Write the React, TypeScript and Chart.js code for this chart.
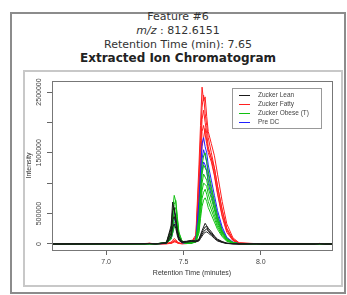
import React, { useEffect, useRef } from "react";
import { Chart, registerables } from "chart.js";

Chart.register(...registerables);

const featureLabel = "Feature #6";
const mzLabel = "m/z";
const mzValue = " : 812.6151";
const rtLabel = "Retention Time (min): 7.65";
const chartTitle = "Extracted Ion Chromatogram";
const xLabel = "Retention Time (minutes)";
const yLabel = "Intensity";

// retention time (minutes)
const retentionTimes = [6.65, 7.25, 7.28, 7.32, 7.39, 7.42, 7.43, 7.44, 7.45, 7.46, 7.47, 7.49, 7.52, 7.55, 7.58, 7.60, 7.61, 7.62, 7.63, 7.64, 7.65, 7.66, 7.68, 7.70, 7.72, 7.75, 7.78, 7.82, 7.86, 7.97, 8.00, 8.35, 8.38, 8.41, 8.46];

// intensities in thousands
const leanA = [0, 6, 10, 3, 25, 300, 690, 560, 400, 250, 120, 40, 45, 60, 50, 80, 150, 220, 280, 340, 300, 260, 200, 130, 80, 40, 15, 5, 2, 4, 0, 0, 6, 0, 0];
const leanB = [0, 5, 8, 2, 20, 250, 550, 600, 420, 200, 90, 35, 40, 55, 45, 70, 130, 190, 240, 280, 290, 230, 180, 120, 70, 35, 12, 4, 2, 3, 0, 0, 5, 0, 0];
const leanC = [0, 4, 6, 2, 15, 180, 400, 450, 350, 180, 80, 30, 35, 45, 40, 60, 110, 160, 200, 230, 250, 210, 160, 100, 60, 30, 10, 3, 1, 2, 0, 0, 4, 0, 0];
const leanD = [0, 3, 5, 1, 12, 120, 280, 330, 260, 140, 60, 25, 30, 40, 35, 50, 90, 130, 170, 190, 200, 180, 140, 90, 50, 25, 8, 3, 1, 2, 0, 0, 3, 0, 0];

const fattyA = [0, 8, 12, 4, 10, 30, 60, 90, 70, 40, 20, 10, 15, 30, 150, 1300, 1950, 2580, 2350, 2420, 2100, 1850, 1650, 1450, 1150, 700, 330, 100, 20, 6, 0, 0, 10, 0, 0];
const fattyB = [0, 5, 10, 3, 8, 20, 40, 60, 50, 30, 15, 8, 12, 25, 120, 1100, 1700, 2250, 2450, 2150, 1950, 1750, 1500, 1250, 950, 560, 260, 80, 15, 4, 0, 0, 8, 0, 0];
const fattyC = [0, 6, 9, 2, 6, 15, 30, 50, 45, 25, 12, 6, 10, 20, 90, 900, 1500, 2050, 2200, 2000, 1820, 1600, 1400, 1150, 850, 480, 220, 60, 12, 3, 0, 0, 6, 0, 0];
const fattyD = [0, 4, 8, 2, 5, 12, 25, 40, 35, 20, 10, 5, 8, 18, 70, 750, 1300, 1850, 1950, 1800, 1650, 1500, 1350, 1120, 820, 450, 190, 55, 10, 3, 0, 0, 5, 0, 0];
const fattyE = [0, 3, 6, 1, 4, 10, 20, 35, 30, 18, 8, 4, 6, 15, 60, 600, 1150, 1600, 1750, 1900, 1700, 1550, 1420, 1250, 950, 560, 250, 70, 12, 2, 0, 0, 4, 0, 0];

const obeseA = [0, 4, 6, 2, 30, 250, 550, 800, 700, 420, 180, 50, 20, 25, 60, 450, 900, 1300, 1450, 1500, 1350, 1200, 950, 700, 450, 220, 90, 25, 5, 2, 0, 0, 3, 0, 0];
const obeseB = [0, 3, 5, 1, 25, 200, 450, 650, 720, 450, 200, 50, 18, 20, 50, 380, 800, 1150, 1300, 1250, 1200, 1050, 850, 620, 400, 200, 80, 22, 5, 2, 0, 0, 3, 0, 0];
const obeseC = [0, 3, 4, 1, 20, 150, 350, 550, 600, 380, 160, 40, 15, 18, 45, 320, 700, 1000, 1150, 1100, 1050, 920, 750, 560, 360, 180, 70, 20, 4, 1, 0, 0, 2, 0, 0];
const obeseD = [0, 2, 4, 1, 18, 120, 300, 450, 480, 300, 120, 35, 12, 15, 40, 280, 600, 880, 1000, 980, 950, 820, 650, 480, 320, 160, 60, 18, 4, 1, 0, 0, 2, 0, 0];
const obeseE = [0, 2, 3, 1, 15, 100, 220, 350, 380, 250, 100, 30, 10, 14, 35, 220, 500, 750, 850, 900, 820, 700, 560, 420, 280, 140, 55, 15, 3, 1, 0, 0, 2, 0, 0];
const obeseF = [0, 2, 3, 1, 12, 80, 180, 280, 300, 200, 80, 25, 8, 12, 30, 180, 420, 620, 720, 760, 700, 600, 480, 360, 240, 120, 45, 12, 3, 1, 0, 0, 1, 0, 0];

const preA = [0, 3, 6, 2, 20, 150, 350, 520, 480, 300, 120, 30, 15, 20, 80, 700, 1200, 1650, 1750, 1600, 1500, 1300, 1050, 800, 550, 280, 110, 30, 6, 2, 0, 0, 4, 0, 0];
const preB = [0, 2, 5, 1, 15, 100, 250, 400, 430, 250, 90, 25, 12, 18, 60, 550, 1000, 1400, 1550, 1450, 1350, 1150, 900, 700, 480, 240, 90, 25, 5, 1, 0, 0, 3, 0, 0];
const preC = [0, 2, 4, 1, 10, 80, 180, 300, 330, 200, 70, 20, 10, 15, 50, 450, 850, 1200, 1350, 1300, 1200, 1000, 800, 600, 400, 200, 80, 20, 4, 1, 0, 0, 2, 0, 0];

const groupLabels = ["Zucker Lean", "Zucker Fatty", "Zucker Obese (T)", "Pre DC"];
const groupColors = ["#1a1a1a", "#ff2020", "#10c010", "#2020ff"];
const groupTraces = [
  [leanA, leanB, leanC, leanD],
  [fattyA, fattyB, fattyC, fattyD, fattyE],
  [obeseA, obeseB, obeseC, obeseD, obeseE, obeseF],
  [preA, preB, preC],
];
// drawing order: first dataset is painted on top
const drawOrder = [0, 2, 3, 1];

const xTickValues = [7.0, 7.5, 8.0];
const xTickLabels = ["7.0", "7.5", "8.0"];
const yTickValues = [0, 500, 1000, 1500, 2000, 2500];
const yTickLabels = ["0", "500000", "", "1500000", "", "2500000"];

const tickFont = { family: '"Liberation Sans", Arial, sans-serif', size: 7 };

const boxPlugin = {
  id: "plotBox",
  afterDatasetsDraw(chart: any) {
    const { ctx, chartArea } = chart;
    ctx.save();
    ctx.strokeStyle = "#777";
    ctx.lineWidth = 1;
    ctx.strokeRect(
      Math.round(chartArea.left) + 0.5,
      Math.round(chartArea.top) + 0.5,
      Math.round(chartArea.right - chartArea.left),
      Math.round(chartArea.bottom - chartArea.top)
    );
    ctx.restore();
  },
};

const legendPlugin = {
  id: "boxLegend",
  afterDraw(chart: any) {
    const { ctx, chartArea } = chart;
    const w = 90;
    const h = 41;
    const x0 = Math.round(chartArea.right - 10 - w);
    const y0 = Math.round(chartArea.top + 7);
    ctx.save();
    ctx.fillStyle = "#ffffff";
    ctx.fillRect(x0, y0, w, h);
    ctx.strokeStyle = "#999";
    ctx.lineWidth = 1;
    ctx.strokeRect(x0 + 0.5, y0 + 0.5, w - 1, h - 1);
    ctx.font = '6.5px "Liberation Sans", Arial, sans-serif';
    ctx.textBaseline = "middle";
    ctx.textAlign = "left";
    groupLabels.forEach((lab, i) => {
      const y = y0 + 7.5 + i * 9;
      ctx.strokeStyle = groupColors[i];
      ctx.beginPath();
      ctx.moveTo(x0 + 7, y);
      ctx.lineTo(x0 + 18, y);
      ctx.stroke();
      ctx.fillStyle = "#444";
      ctx.fillText(lab, x0 + 26, y);
    });
    ctx.restore();
  },
};

export default function App() {
  const ref = useRef<HTMLCanvasElement>(null);

  useEffect(() => {
    const datasets: any[] = [];
    drawOrder.forEach((g) => {
      groupTraces[g].forEach((trace, k) => {
        datasets.push({
          label: groupLabels[g] + " " + (k + 1),
          data: retentionTimes.map((t, i) => ({ x: t, y: trace[i] })),
          borderColor: groupColors[g],
          borderWidth: 1,
          pointRadius: 0,
          tension: 0,
          fill: false,
        });
      });
    });

    const chart = new Chart(ref.current!, {
      type: "line",
      data: { datasets },
      options: {
        animation: false,
        responsive: false,
        devicePixelRatio: 1,
        layout: { padding: { left: 0, right: 9, top: 9, bottom: 0 } },
        plugins: { legend: { display: false }, tooltip: { enabled: false } },
        scales: {
          x: {
            type: "linear",
            min: 6.65,
            max: 8.46,
            afterBuildTicks: (s: any) => {
              s.ticks = xTickValues.map((v) => ({ value: v }));
            },
            afterFit: (s: any) => {
              s.height = 35;
            },
            grid: { drawOnChartArea: false, drawTicks: true, tickLength: 5, color: "#666" },
            border: { display: false },
            ticks: {
              autoSkip: false,
              maxRotation: 0,
              padding: 3,
              font: tickFont,
              color: "#444",
              callback: (_v: any, i: number) => xTickLabels[i],
            },
            title: {
              display: true,
              text: xLabel,
              font: tickFont,
              color: "#333",
              padding: { top: 0, bottom: 8 },
            },
          },
          y: {
            type: "linear",
            min: -98.7,
            max: 2681,
            afterBuildTicks: (s: any) => {
              s.ticks = yTickValues.map((v) => ({ value: v }));
            },
            afterFit: (s: any) => {
              s.width = 27;
            },
            grid: { drawOnChartArea: false, drawTicks: true, tickLength: 5, color: "#666" },
            border: { display: false },
            ticks: {
              autoSkip: false,
              minRotation: 90,
              maxRotation: 90,
              crossAlign: "center",
              padding: -6,
              font: tickFont,
              color: "#444",
              callback: (_v: any, i: number) => yTickLabels[i],
            },
            title: {
              display: true,
              text: yLabel,
              font: tickFont,
              color: "#333",
              padding: 0,
            },
          },
        },
      },
      plugins: [boxPlugin, legendPlugin],
    } as any);
    return () => chart.destroy();
  }, []);

  const lineStyle = (top: number, bold = false): React.CSSProperties => ({
    position: "absolute",
    left: 10,
    top,
    width: 336,
    height: 14,
    lineHeight: "14px",
    textAlign: "center",
    fontSize: bold ? 12 : 11,
    fontWeight: bold ? "bold" : "normal",
    color: bold ? "#222" : "#333",
    whiteSpace: "nowrap",
  });

  return (
    <div
      style={{
        position: "absolute",
        left: 0,
        top: 0,
        width: 347,
        height: 295,
        background: "#fff",
        fontFamily: '"DejaVu Sans", Verdana, sans-serif',
        overflow: "hidden",
      }}
    >
      <div
        style={{
          position: "absolute",
          left: 10,
          top: 12,
          width: 336,
          height: 282,
          border: "2px solid #8c8c8c",
          boxSizing: "border-box",
        }}
      />
      <div style={lineStyle(10)}>{featureLabel}</div>
      <div style={lineStyle(24)}>
        <i>{mzLabel}</i>
        {mzValue}
      </div>
      <div style={lineStyle(38)}>{rtLabel}</div>
      <div style={lineStyle(51, true)}>{chartTitle}</div>
      <div
        style={{
          position: "absolute",
          left: 23,
          top: 70,
          width: 320,
          height: 217,
          border: "2px solid #c8c8c8",
          boxSizing: "border-box",
        }}
      >
        <canvas ref={ref} width={316} height={213} style={{ display: "block" }} />
      </div>
    </div>
  );
}
